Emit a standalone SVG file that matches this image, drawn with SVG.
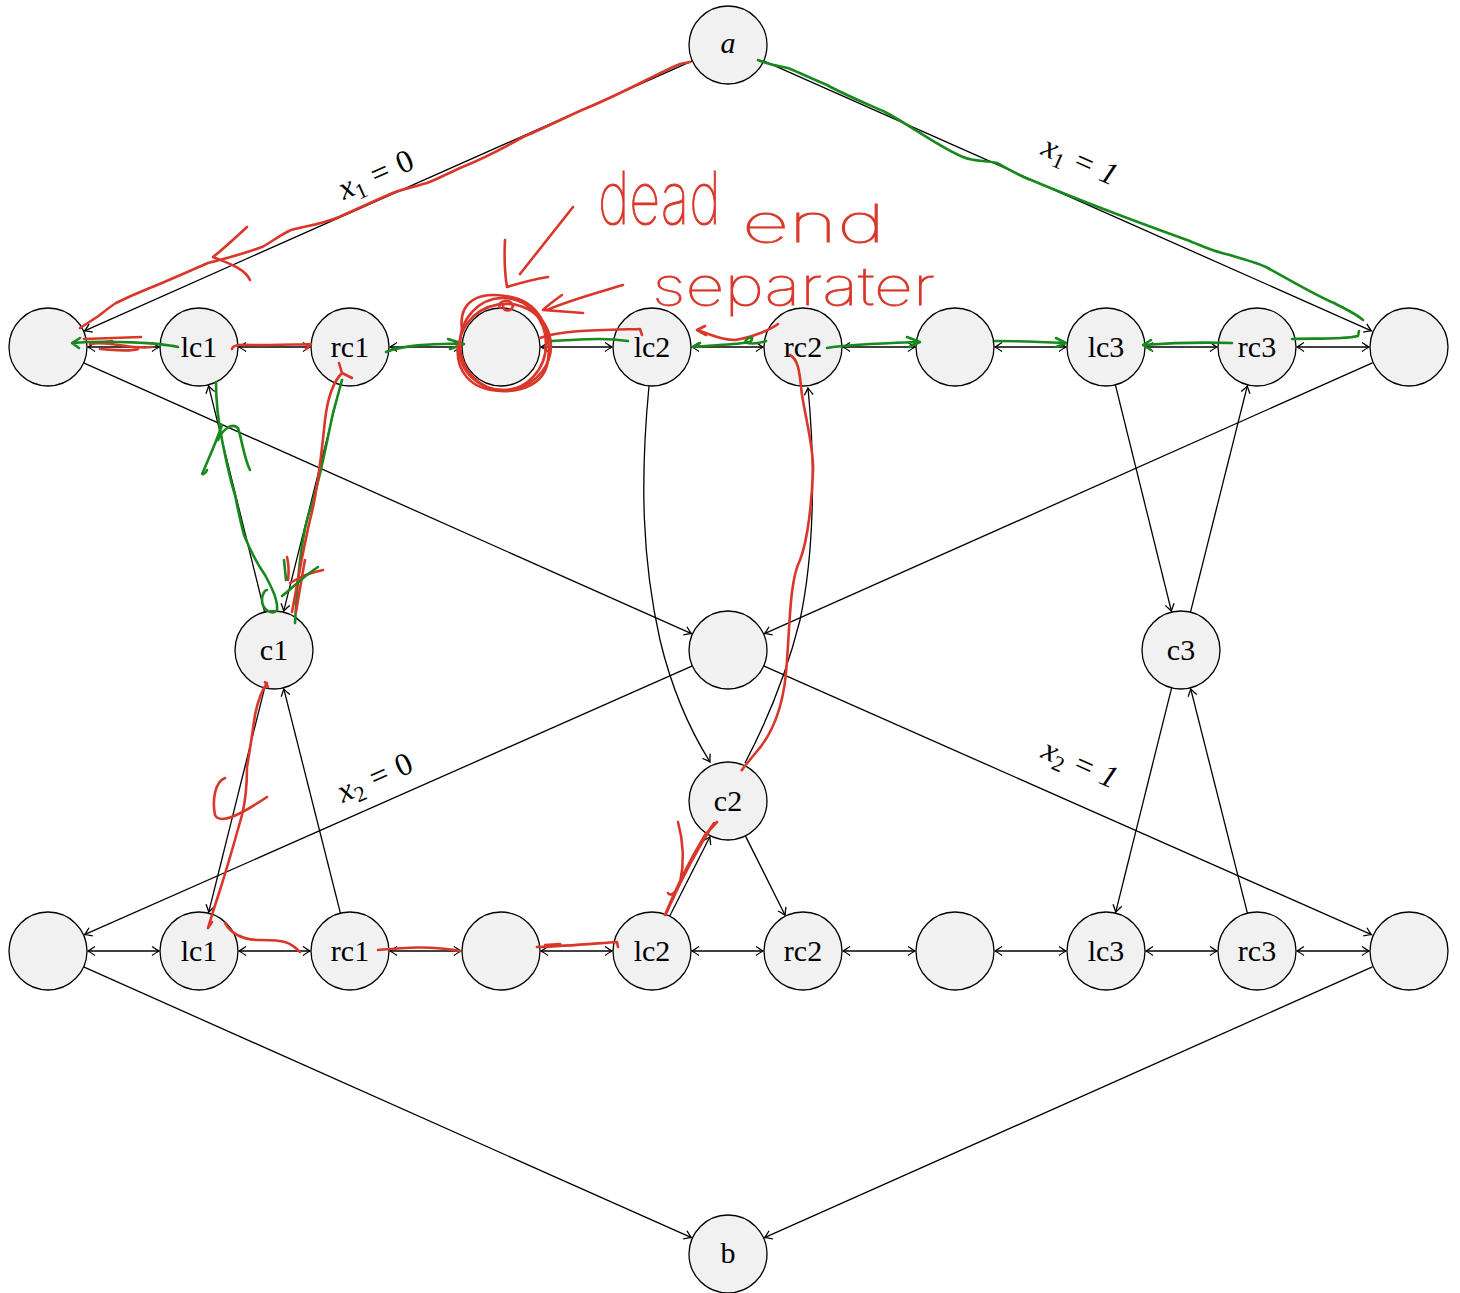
<svg xmlns="http://www.w3.org/2000/svg" width="1460" height="1293" viewBox="0 0 1460 1293">
<style>
.n circle{fill:#f1f1f1;stroke:#000;stroke-width:1.3}
.n text{font-family:"Liberation Serif",serif;font-size:30px;text-anchor:middle;fill:#000}
.e{stroke:#000;stroke-width:1.3;fill:none;marker-end:url(#ah)}
.d{marker-start:url(#ah)}
.lbl{font-family:"Liberation Serif",serif;font-size:32px;fill:#000}
.r{stroke:#d9372a;stroke-width:2.6;fill:none;stroke-linecap:round;stroke-linejoin:round}
.g{stroke:#17891d;stroke-width:2.6;fill:none;stroke-linecap:round;stroke-linejoin:round}
.hw{font-family:Inter,Lato,"Open Sans",sans-serif;font-weight:100;fill:#d9372a;stroke:#d9372a;stroke-width:0.8}
</style>
<defs>
<marker id="ah" viewBox="-9 -6 11 12" refX="0" refY="0" markerWidth="11" markerHeight="12" markerUnits="userSpaceOnUse" orient="auto-start-reverse">
<path d="M-7,-4.5 Q-2,-1 0,0 Q-2,1 -7,4.5" fill="none" stroke="#000" stroke-width="1.3"/>
</marker>
</defs>
<rect width="1460" height="1293" fill="#fff"/>
<g id="connectors">
<line class="e" x1="692.4" y1="60.8" x2="84.6" y2="330.8"/>
<line class="e" x1="763.6" y1="60.8" x2="1371.4" y2="330.8"/>
<line class="e" x1="83.6" y1="362.9" x2="691.5" y2="633.7"/>
<line class="e" x1="1372.4" y1="362.9" x2="764.5" y2="633.7"/>
<line class="e" x1="692.4" y1="665.9" x2="84.5" y2="934.7"/>
<line class="e" x1="763.6" y1="665.9" x2="1371.5" y2="934.7"/>
<line class="e" x1="83.6" y1="966.9" x2="691.5" y2="1237.7"/>
<line class="e" x1="1372.4" y1="966.9" x2="764.5" y2="1237.7"/>
<line class="e d" x1="88" y1="347" x2="159" y2="347"/>
<line class="e d" x1="239" y1="347" x2="310" y2="347"/>
<line class="e d" x1="390" y1="347" x2="461" y2="347"/>
<line class="e d" x1="541" y1="347" x2="612" y2="347"/>
<line class="e d" x1="692" y1="347" x2="763" y2="347"/>
<line class="e d" x1="843" y1="347" x2="915" y2="347"/>
<line class="e d" x1="995" y1="347" x2="1066" y2="347"/>
<line class="e d" x1="1146" y1="347" x2="1217" y2="347"/>
<line class="e d" x1="1297" y1="347" x2="1369" y2="347"/>
<line class="e d" x1="88" y1="951" x2="159" y2="951"/>
<line class="e d" x1="239" y1="951" x2="310" y2="951"/>
<line class="e d" x1="390" y1="951" x2="461" y2="951"/>
<line class="e d" x1="541" y1="951" x2="612" y2="951"/>
<line class="e d" x1="692" y1="951" x2="763" y2="951"/>
<line class="e d" x1="843" y1="951" x2="915" y2="951"/>
<line class="e d" x1="995" y1="951" x2="1066" y2="951"/>
<line class="e d" x1="1146" y1="951" x2="1217" y2="951"/>
<line class="e d" x1="1297" y1="951" x2="1369" y2="951"/>
<line class="e" x1="264.6" y1="612.1" x2="208.6" y2="385.8"/>
<line class="e" x1="340.5" y1="384.8" x2="283.7" y2="611.2"/>
<line class="e" x1="264.6" y1="687.8" x2="208.7" y2="912.2"/>
<line class="e" x1="340.4" y1="913.2" x2="283.8" y2="688.8"/>
<line class="e" x1="1115.4" y1="384.9" x2="1171.4" y2="611.2"/>
<line class="e" x1="1190.5" y1="612.2" x2="1247.3" y2="385.8"/>
<line class="e" x1="1171.6" y1="687.8" x2="1115.7" y2="912.2"/>
<line class="e" x1="1247.4" y1="913.2" x2="1190.7" y2="688.8"/>
<path class="e" d="M649,386 C640,480 642,560 660,640 C672,690 690,730 710,762"/>
<path class="e" d="M745,763 C765,725 785,680 800,620 C815,550 815,460 808,388"/>
<line class="e" x1="669.6" y1="916.2" x2="709.9" y2="836.7"/>
<line class="e" x1="745.4" y1="835.9" x2="785.1" y2="915.2"/>
<text class="lbl" transform="translate(380,184) rotate(-24)" text-anchor="middle"><tspan font-style="italic">x</tspan><tspan font-size="22" dy="6">1</tspan><tspan dy="-6" dx="10">=</tspan><tspan dx="10">0</tspan></text>
<text class="lbl" transform="translate(1076,170) rotate(24)" text-anchor="middle"><tspan font-style="italic">x</tspan><tspan font-size="22" dy="6">1</tspan><tspan dy="-6" dx="10">=</tspan><tspan dx="10" font-style="italic">1</tspan></text>
<text class="lbl" transform="translate(379,787) rotate(-24)" text-anchor="middle"><tspan font-style="italic">x</tspan><tspan font-size="22" dy="6">2</tspan><tspan dy="-6" dx="10">=</tspan><tspan dx="10">0</tspan></text>
<text class="lbl" transform="translate(1076,773) rotate(24)" text-anchor="middle"><tspan font-style="italic">x</tspan><tspan font-size="22" dy="6">2</tspan><tspan dy="-6" dx="10">=</tspan><tspan dx="10" font-style="italic">1</tspan></text>
</g>
<g id="nodes">
<g id="a" class="n"><circle cx="728" cy="45" r="39"/><text x="728" y="53" font-style="italic">a</text></g>
<g id="u0" class="n"><circle cx="48" cy="347" r="39"/></g>
<g id="u_lc1" class="n"><circle cx="199" cy="347" r="39"/><text x="199" y="357">lc1</text></g>
<g id="u_rc1" class="n"><circle cx="350" cy="347" r="39"/><text x="350" y="357">rc1</text></g>
<g id="u_s1" class="n"><circle cx="501" cy="347" r="39"/></g>
<g id="u_lc2" class="n"><circle cx="652" cy="347" r="39"/><text x="652" y="357">lc2</text></g>
<g id="u_rc2" class="n"><circle cx="803" cy="347" r="39"/><text x="803" y="357">rc2</text></g>
<g id="u_s2" class="n"><circle cx="955" cy="347" r="39"/></g>
<g id="u_lc3" class="n"><circle cx="1106" cy="347" r="39"/><text x="1106" y="357">lc3</text></g>
<g id="u_rc3" class="n"><circle cx="1257" cy="347" r="39"/><text x="1257" y="357">rc3</text></g>
<g id="u_end" class="n"><circle cx="1409" cy="347" r="39"/></g>
<g id="c1" class="n"><circle cx="274" cy="650" r="39"/><text x="274" y="660">c1</text></g>
<g id="mid" class="n"><circle cx="728" cy="650" r="39"/></g>
<g id="c3" class="n"><circle cx="1181" cy="650" r="39"/><text x="1181" y="660">c3</text></g>
<g id="c2" class="n"><circle cx="728" cy="801" r="39"/><text x="728" y="811">c2</text></g>
<g id="l0" class="n"><circle cx="48" cy="951" r="39"/></g>
<g id="l_lc1" class="n"><circle cx="199" cy="951" r="39"/><text x="199" y="961">lc1</text></g>
<g id="l_rc1" class="n"><circle cx="350" cy="951" r="39"/><text x="350" y="961">rc1</text></g>
<g id="l_s1" class="n"><circle cx="501" cy="951" r="39"/></g>
<g id="l_lc2" class="n"><circle cx="652" cy="951" r="39"/><text x="652" y="961">lc2</text></g>
<g id="l_rc2" class="n"><circle cx="803" cy="951" r="39"/><text x="803" y="961">rc2</text></g>
<g id="l_s2" class="n"><circle cx="955" cy="951" r="39"/></g>
<g id="l_lc3" class="n"><circle cx="1106" cy="951" r="39"/><text x="1106" y="961">lc3</text></g>
<g id="l_rc3" class="n"><circle cx="1257" cy="951" r="39"/><text x="1257" y="961">rc3</text></g>
<g id="l_end" class="n"><circle cx="1409" cy="951" r="39"/></g>
<g id="b" class="n"><circle cx="728" cy="1254" r="39"/><text x="728" y="1263">b</text></g>
</g>
<g id="annotations">
<path class="r" d="M690,62 L680,64 C660,72 620,95 582,110 C560,120 540,130 523,137 C500,150 480,160 460,168 C445,175 435,180 427,183 C410,188 398,190 388,195 C370,203 350,212 339,217 C320,225 305,226 291,230 C280,235 270,243 262,247 C240,255 220,260 208,263 C185,273 165,282 145,290 C130,296 122,300 116,303 C108,308 100,315 97,317 L80,328"/>
<path class="r" d="M247,227 C235,238 222,250 213,257 C225,262 245,268 250,280"/>
<path class="r" d="M84,339 L141,337 M90,344 C110,340 130,350 152,347 M100,349 C115,350 130,352 138,349 M105,342 L112,341"/>
<path class="g" d="M178,347 C160,343 110,340 72,343 M72,343 L80,338 M72,343 L79,348"/>
<path class="r" d="M232,349 C234,342 250,346 270,345 C290,344 300,345 311,344 L306,349"/>
<path class="g" d="M386,352 C400,346 430,343 464,344 M464,344 L448,339 M464,344 L450,349"/>
<ellipse class="r" cx="503" cy="344" rx="43" ry="46"/>
<ellipse class="r" cx="505" cy="347" rx="46" ry="43" transform="rotate(-10 505 347)"/>
<path class="r" d="M462,330 C458,300 480,292 505,296 C540,300 552,330 548,360 C545,385 520,392 500,391 C470,390 455,370 458,345"/>
<path class="r" d="M500,308 C496,300 512,298 513,306 C511,312 503,312 503,305"/>
<path class="r" d="M540,338 C560,330 600,330 640,329 L642,335"/>
<path class="g" d="M552,341 C580,340 600,337 628,341"/>
<path class="r" d="M573,207 L520,274 M505,240 C504,260 505,275 507,287 C520,283 535,279 548,277"/>
<path class="r" d="M623,285 C600,292 570,300 547,310 M562,295 C555,300 548,305 543,310 C555,311 570,312 583,313"/>
<g id="handnote">
<text class="hw" transform="translate(598,224) scale(1,1.35)" font-size="54">dead</text>
<text class="hw" x="742" y="242" font-size="52" textLength="143" lengthAdjust="spacingAndGlyphs">end</text>
<text class="hw" x="652" y="305" font-size="52" textLength="283" lengthAdjust="spacingAndGlyphs">separater</text>
</g>
<path class="r" d="M778,324 C770,330 750,338 735,340 C720,340 710,334 697,330 M697,330 L705,326 M697,330 L706,335"/>
<path class="g" d="M693,347 C710,345 735,345 750,342 C756,336 748,336 745,342 C752,345 760,343 766,341 M693,347 L700,343"/>
<path class="g" d="M827,348 C850,344 890,343 920,342 M920,342 L907,337 M920,342 L909,347"/>
<path class="r" d="M790,355 C800,360 800,380 802,395 C806,420 814,450 813,470 C812,500 808,540 800,560 C790,580 790,620 787,660 C785,700 775,730 758,750 C748,762 740,772 742,770"/>
<path class="g" d="M216,382 C216,400 218,420 222,440 C226,460 230,480 235,495 C238,510 240,520 244,535 C250,550 258,565 265,575 C272,588 278,600 277,610 C273,616 262,610 262,600 C262,594 265,590 267,590"/>
<path class="g" d="M222,425 C215,445 208,460 203,472 C200,476 206,474 207,470 M218,440 C222,430 232,422 238,428 C242,440 244,458 250,470"/>
<path class="g" d="M295,623 C297,590 300,540 310,510 C320,480 325,450 333,413 L342,380"/>
<path class="r" d="M342,373 C335,380 328,395 325,420 C322,450 318,490 310,520 C303,550 298,580 292,612 M342,373 L339,363 M342,373 L352,378 M296,612 C300,590 302,575 305,560"/>
<path class="r" d="M287,557 C289,565 289,572 288,580 M290,583 C300,577 312,572 323,570"/>
<path class="g" d="M282,596 C290,590 305,575 318,567 M284,560 L286,580"/>
<path class="r" d="M265,682 L268,687 M267,683 C262,690 258,700 255,715 C252,735 250,750 247,767 C247,780 247,795 242,815 C235,840 228,865 220,890 C215,905 211,918 208,928 L212,922"/>
<path class="r" d="M225,778 C215,782 212,800 215,815 C220,825 240,815 267,797"/>
<path class="r" d="M225,923 C232,935 245,940 260,940 C285,940 290,942 300,952"/>
<path class="r" d="M378,950 C400,948 430,945 460,951"/>
<path class="r" d="M537,947 C570,946 600,943 617,942 L618,947 M545,945 L560,944"/>
<path class="r" d="M665,915 C675,890 690,860 705,835 L717,822 M667,912 C680,880 695,850 712,826 M670,905 C682,878 698,848 714,823 M678,822 C683,840 685,860 680,883 C676,893 670,897 668,893"/>
<path class="g" d="M758,60 C770,65 780,66 788,68 C800,73 815,80 827,85 C845,95 865,103 885,112 C910,125 940,148 963,157 C975,162 985,160 997,163 C1010,170 1020,176 1031,180 C1060,192 1090,204 1114,213 C1140,223 1165,232 1187,240 C1200,245 1210,250 1222,253 C1240,258 1255,262 1266,267 C1290,280 1315,295 1334,303 C1345,309 1355,313 1363,320"/>
<path class="g" d="M1292,339 C1310,338 1340,340 1358,336 L1359,331"/>
<path class="g" d="M1232,343 C1200,342 1170,343 1143,345 M1143,345 L1151,340 M1143,345 L1151,350"/>
<path class="g" d="M995,341 C1020,341 1045,342 1066,343 M1066,343 L1056,338 M1066,343 L1056,347"/>
</g>
</svg>
